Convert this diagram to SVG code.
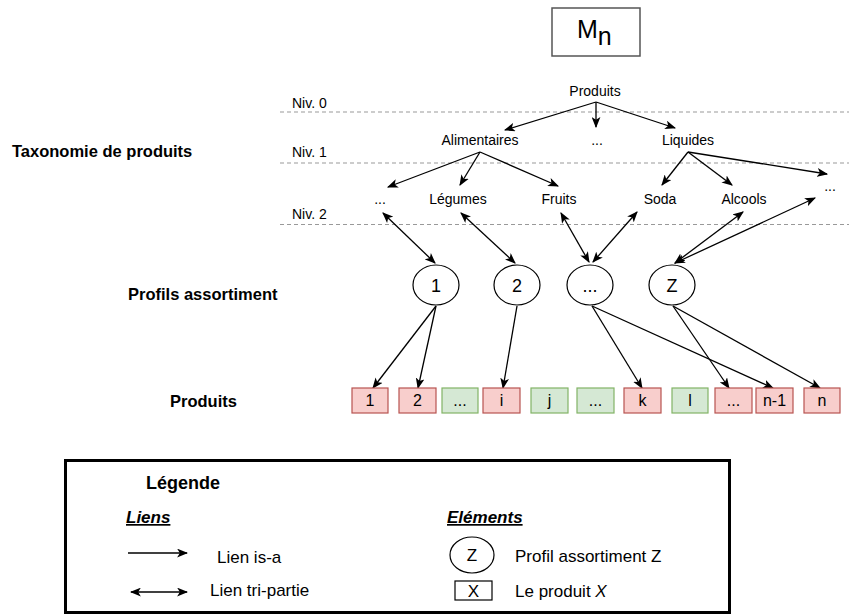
<svg xmlns="http://www.w3.org/2000/svg" width="849" height="615" viewBox="0 0 849 615">
<style>
text{font-family:"Liberation Sans",Arial,Helvetica,sans-serif;fill:#000}
.t{font-size:14px;text-anchor:middle}
.niv{font-size:14px}
.sec{font-size:16.5px;font-weight:bold}
.prof{font-size:18px;text-anchor:middle}
.pt{font-size:16px;text-anchor:middle}
.lg{font-size:17px}
.lh{font-size:17px;font-weight:bold;font-style:italic;text-decoration:underline}
.dash{stroke:#999;stroke-width:1;stroke-dasharray:4 3;fill:none}
.ln{stroke:#000;stroke-width:1.3;fill:none}
.isa{marker-end:url(#ah)}
.tri{marker-end:url(#ah);marker-start:url(#ah)}
.circ{fill:#fff;stroke:#000;stroke-width:1.2}
.red{fill:#f8cecc;stroke:#b85450;stroke-width:1.2}
.green{fill:#d5e8d4;stroke:#82b366;stroke-width:1.2}
</style>
<defs>
<marker id="ah" viewBox="0 0 10 8" refX="9" refY="4" markerWidth="11" markerHeight="9" markerUnits="userSpaceOnUse" orient="auto-start-reverse">
<path d="M0,0 L10,4 L0,8 L2.5,4 z" fill="#000"/>
</marker>
</defs>
<rect width="849" height="615" fill="#fff"/>

<g id="title">
<rect x="552" y="8" width="88" height="48" fill="#fff" stroke="#555" stroke-width="1.5"/>
<text x="577" y="38" font-size="25">M<tspan y="45">n</tspan></text>
</g>

<g id="levels">
<line class="dash" x1="280" y1="112" x2="849" y2="112"/>
<line class="dash" x1="280" y1="163" x2="849" y2="163"/>
<line class="dash" x1="280" y1="224.5" x2="849" y2="224.5"/>
<text class="niv" x="292" y="108">Niv. 0</text>
<text class="niv" x="292" y="157">Niv. 1</text>
<text class="niv" x="292" y="219">Niv. 2</text>
</g>

<g id="section-labels">
<text class="sec" x="12" y="157">Taxonomie de produits</text>
<text class="sec" x="128" y="300">Profils assortiment</text>
<text class="sec" x="170" y="407">Produits</text>
</g>

<g id="connectors">
<line class="ln isa" x1="596" y1="102" x2="505" y2="130"/>
<line class="ln isa" x1="596" y1="102" x2="596" y2="127"/>
<line class="ln isa" x1="596" y1="102" x2="675" y2="128"/>
<line class="ln isa" x1="480" y1="152" x2="388" y2="187"/>
<line class="ln isa" x1="480" y1="152" x2="460" y2="185"/>
<line class="ln isa" x1="480" y1="152" x2="558" y2="186"/>
<line class="ln isa" x1="688" y1="152" x2="662" y2="185"/>
<line class="ln isa" x1="688" y1="152" x2="732" y2="185"/>
<line class="ln isa" x1="688" y1="152" x2="827" y2="174"/>
<line class="ln tri" x1="383" y1="213" x2="435" y2="263"/>
<line class="ln tri" x1="461" y1="213" x2="515" y2="263"/>
<line class="ln tri" x1="561" y1="213" x2="589" y2="262"/>
<line class="ln tri" x1="637" y1="212" x2="593" y2="262"/>
<line class="ln tri" x1="743" y1="212" x2="675" y2="263"/>
<line class="ln tri" x1="815" y1="198" x2="675" y2="263"/>
<line class="ln isa" x1="436" y1="306" x2="373" y2="388"/>
<line class="ln isa" x1="436" y1="306" x2="418" y2="388"/>
<line class="ln isa" x1="517" y1="306" x2="503" y2="388"/>
<line class="ln isa" x1="592" y1="306" x2="642" y2="388"/>
<line class="ln isa" x1="592" y1="306" x2="773" y2="388"/>
<line class="ln isa" x1="673" y1="306" x2="729" y2="388"/>
<line class="ln isa" x1="673" y1="306" x2="820" y2="388"/>
</g>

<g id="n-produits"><text class="t" x="595" y="96">Produits</text></g>
<g id="n-alimentaires"><text class="t" x="480" y="145">Alimentaires</text></g>
<g id="n-dots1"><text class="t" x="597" y="145">...</text></g>
<g id="n-liquides"><text class="t" x="688" y="145">Liquides</text></g>
<g id="n-dots2a"><text class="t" x="380" y="204">...</text></g>
<g id="n-legumes"><text class="t" x="458" y="204">Légumes</text></g>
<g id="n-fruits"><text class="t" x="559" y="204">Fruits</text></g>
<g id="n-soda"><text class="t" x="660" y="204">Soda</text></g>
<g id="n-alcools"><text class="t" x="744" y="204">Alcools</text></g>
<g id="n-dots2b"><text class="t" x="830" y="191">...</text></g>

<g id="p-1"><ellipse class="circ" cx="436" cy="285" rx="23" ry="20"/><text class="prof" x="436" y="292">1</text></g>
<g id="p-2"><ellipse class="circ" cx="517" cy="285" rx="23" ry="20"/><text class="prof" x="517" y="292">2</text></g>
<g id="p-dots"><ellipse class="circ" cx="590" cy="285" rx="23" ry="20"/><text class="prof" x="590" y="292">...</text></g>
<g id="p-z"><ellipse class="circ" cx="672" cy="285" rx="23" ry="20"/><text class="prof" x="672" y="292">Z</text></g>

<g id="i-1"><rect class="red" x="352" y="388" width="36" height="25"/><text class="pt" x="370" y="406">1</text></g>
<g id="i-2"><rect class="red" x="399" y="388" width="37" height="25"/><text class="pt" x="417.5" y="406">2</text></g>
<g id="i-dots1"><rect class="green" x="442" y="388" width="36" height="25"/><text class="pt" x="460" y="406">...</text></g>
<g id="i-i"><rect class="red" x="483" y="388" width="37" height="25"/><text class="pt" x="501.5" y="406">i</text></g>
<g id="i-j"><rect class="green" x="531" y="388" width="37" height="25"/><text class="pt" x="549.5" y="406">j</text></g>
<g id="i-dots2"><rect class="green" x="577" y="388" width="37" height="25"/><text class="pt" x="595.5" y="406">...</text></g>
<g id="i-k"><rect class="red" x="624" y="388" width="37" height="25"/><text class="pt" x="642.5" y="406">k</text></g>
<g id="i-l"><rect class="green" x="672" y="388" width="36" height="25"/><text class="pt" x="690" y="406">l</text></g>
<g id="i-dots3"><rect class="red" x="715" y="388" width="37" height="25"/><text class="pt" x="733.5" y="406">...</text></g>
<g id="i-n1"><rect class="red" x="756" y="388" width="37" height="25"/><text class="pt" x="774.5" y="406">n-1</text></g>
<g id="i-n"><rect class="red" x="804" y="388" width="36" height="25"/><text class="pt" x="822" y="406">n</text></g>

<g id="legend">
<rect x="65.5" y="460.5" width="664" height="152" fill="#fff" stroke="#000" stroke-width="3"/>
<text x="146" y="489" font-size="18" font-weight="bold">Légende</text>
<text class="lh" x="126" y="523">Liens</text>
<text class="lh" x="447" y="523">Eléments</text>
<line class="ln isa" x1="128" y1="553" x2="187" y2="553"/>
<text class="lg" x="217" y="563">Lien is-a</text>
<line class="ln tri" x1="131" y1="592" x2="187" y2="592"/>
<text class="lg" x="210" y="596">Lien tri-partie</text>
<ellipse class="circ" cx="472" cy="555" rx="22" ry="18"/>
<text class="lg" x="472" y="561" text-anchor="middle">Z</text>
<text class="lg" x="515" y="562">Profil assortiment Z</text>
<rect x="455" y="581" width="37" height="19" fill="#fff" stroke="#000" stroke-width="1.2"/>
<text class="lg" x="473.5" y="597" text-anchor="middle">X</text>
<text class="lg" x="515" y="597">Le produit <tspan font-style="italic">X</tspan></text>
</g>
</svg>
